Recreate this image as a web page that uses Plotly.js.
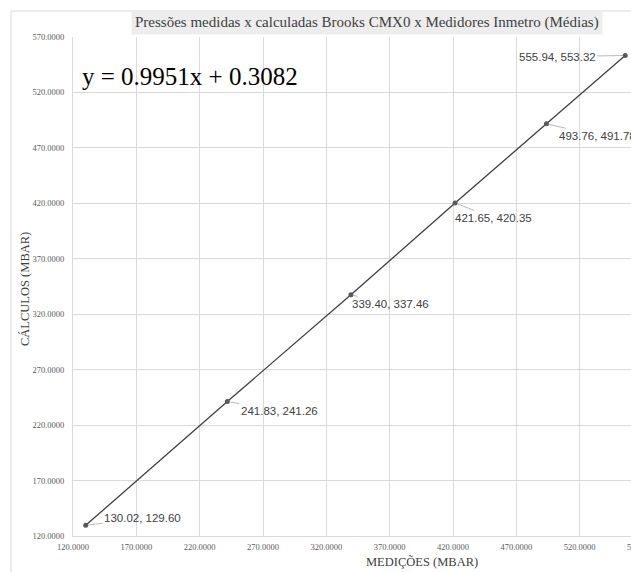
<!DOCTYPE html>
<html>
<head>
<meta charset="utf-8">
<script src="https://cdn.plot.ly/plotly-3.0.1.min.js"></script>
<style>
  html, body { margin: 0; padding: 0; overflow: hidden; background: #fff; width: 631px; height: 572px; }
  #chart { width: 660px; height: 572px; }
</style>
</head>
<body>
<div id="chart"></div>
<script>
// Data
const medicoes = [130.02, 241.83, 339.40, 421.65, 493.76, 555.94];
const calculos = [129.60, 241.26, 337.46, 420.35, 491.78, 553.32];
const chartTitle = 'Pressões medidas x calculadas Brooks CMX0 x Medidores Inmetro (Médias)';
const equation = 'y = 0.9951x + 0.3082';
const xTitle = 'MEDIÇÕES (MBAR)';
const yTitle = 'CÁLCULOS (MBAR)';

// Layout geometry (pixels)
const W = 660, H = 572;
const M = { l: 73, r: 17, t: 37, b: 36 };
const PW = W - M.l - M.r, PH = H - M.t - M.b;
const px = v => (v - M.l) / PW;
const py = v => (H - M.b - v) / PH;

// Label offsets (pixels, text center relative to point)
const labelOffsets = [[57, -7], [52, 9], [40, 9], [38, 15], [51, 12], [-68, 1]];

const serif = '"Liberation Serif", "Times New Roman", serif';
const sans = '"Liberation Sans", Arial, sans-serif';

const trace = {
  x: medicoes, y: calculos,
  type: 'scatter', mode: 'lines+markers',
  line: { color: '#404040', width: 1.3 },
  marker: { color: '#595959', size: 5 },
  hoverinfo: 'skip'
};

const annotations = medicoes.map((xv, i) => ({
  x: xv, y: calculos[i], xref: 'x', yref: 'y',
  text: xv.toFixed(2) + ', ' + calculos[i].toFixed(2),
  showarrow: true, arrowhead: 0, arrowwidth: 0.8, arrowcolor: '#a6a6a6',
  ax: labelOffsets[i][0], ay: labelOffsets[i][1], standoff: 2,
  font: { family: sans, size: 11.5, color: '#404040' }
}));

annotations.push({
  xref: 'paper', yref: 'paper', x: px(80), y: py(77), xanchor: 'left', yanchor: 'middle',
  text: equation, showarrow: false,
  font: { family: serif, size: 25, color: '#000000' }
});
annotations.push({
  xref: 'paper', yref: 'paper', x: px(367), y: py(23), xanchor: 'center', yanchor: 'middle',
  text: chartTitle, showarrow: false, bgcolor: '#ededed', borderpad: 3,
  font: { family: serif, size: 15, color: '#404040' }
});
annotations.push({
  xref: 'paper', yref: 'paper', x: px(421.5), y: py(561.5), xanchor: 'center', yanchor: 'middle',
  text: xTitle, showarrow: false,
  font: { family: serif, size: 12.5, color: '#404040' }
});
annotations.push({
  xref: 'paper', yref: 'paper', x: px(25), y: py(289), xanchor: 'center', yanchor: 'middle',
  text: yTitle, showarrow: false, textangle: -90,
  font: { family: serif, size: 12.5, color: '#404040' }
});

const layout = {
  width: W, height: H,
  margin: M,
  paper_bgcolor: 'rgba(0,0,0,0)', plot_bgcolor: 'rgba(0,0,0,0)',
  showlegend: false,
  xaxis: {
    range: [120, 570], tick0: 120, dtick: 50, tickformat: '.4f',
    showgrid: true, gridcolor: '#d9d9d9', gridwidth: 1,
    zeroline: false, showline: true, linecolor: '#d9d9d9', linewidth: 1,
    ticks: '', ticklabelstandoff: 3,
    tickfont: { family: serif, size: 8.5, color: '#595959' }
  },
  yaxis: {
    range: [120, 570], tick0: 120, dtick: 50, tickformat: '.4f',
    showgrid: true, gridcolor: '#d9d9d9', gridwidth: 1,
    zeroline: false, showline: true, linecolor: '#d9d9d9', linewidth: 1,
    ticks: '', ticklabelstandoff: 6,
    tickfont: { family: serif, size: 8.5, color: '#595959' }
  },
  shapes: [{
    type: 'rect', xref: 'paper', yref: 'paper', layer: 'below',
    x0: px(11), x1: px(W + 20), y0: py(H + 20), y1: py(11),
    line: { color: '#d9d9d9', width: 1 }, fillcolor: 'rgba(0,0,0,0)'
  }],
  annotations: annotations
};

Plotly.newPlot('chart', [trace], layout, { displayModeBar: false, staticPlot: true });
</script>
</body>
</html>
